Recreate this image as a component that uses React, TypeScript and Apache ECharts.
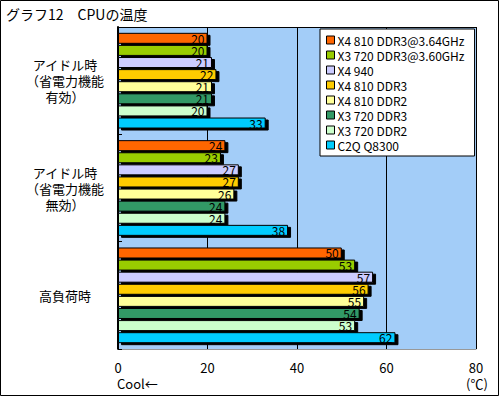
import React, { useEffect, useRef } from "react";
import * as echarts from "echarts";

const categories = ["アイドル時\n（省電力機能\n有効）", "アイドル時\n（省電力機能\n無効）", "高負荷時"];
const seriesNames = [
  "X4 810 DDR3@3.64GHz",
  "X3 720 DDR3@3.60GHz",
  "X4 940",
  "X4 810 DDR3",
  "X4 810 DDR2",
  "X3 720 DDR3",
  "X3 720 DDR2",
  "C2Q Q8300",
];
const seriesColors = ["#FF6600", "#99CC00", "#CCCCFF", "#FFCC00", "#FFFF99", "#339966", "#CCFFCC", "#00CCFF"];
const x4_810_ddr3_364 = [20, 24, 50];
const x3_720_ddr3_360 = [20, 23, 53];
const x4_940 = [21, 27, 57];
const x4_810_ddr3 = [22, 27, 56];
const x4_810_ddr2 = [21, 26, 55];
const x3_720_ddr3 = [21, 24, 54];
const x3_720_ddr2 = [20, 24, 53];
const c2q_q8300 = [33, 38, 62];
const seriesValues = [x4_810_ddr3_364, x3_720_ddr3_360, x4_940, x4_810_ddr3, x4_810_ddr2, x3_720_ddr3, x3_720_ddr2, c2q_q8300];
const xTicks = [0, 20, 40, 60, 80];

const FONT = "'Noto Sans CJK JP', 'Noto Sans', sans-serif";

export default function App() {
  const ref = useRef<HTMLDivElement>(null);
  useEffect(() => {
    if (!ref.current) return;
    const chart = echarts.init(ref.current, null, { renderer: "svg" });
    const series = seriesNames.map((name, i) => ({
      name,
      type: "bar",
      data: seriesValues[i],
      barWidth: 11,
      barGap: "10%",
      barCategoryGap: "9%",
      itemStyle: {
        color: seriesColors[i],
        borderColor: "#000",
        borderWidth: 1,
        shadowColor: "#000",
        shadowBlur: 0,
        shadowOffsetX: 3,
        shadowOffsetY: 2,
      },
      label: {
        show: true,
        position: "insideRight",
        distance: 3,
        color: "#000",
        fontFamily: FONT,
        fontSize: 12,
        lineHeight: 10,
      },
    }));
    chart.setOption({
      animation: false,
      backgroundColor: "#fff",
      textStyle: { fontFamily: FONT },
      grid: { left: 118, right: 24, top: 27, bottom: 48, show: true, backgroundColor: "#A3CDF8", borderWidth: 0 },
      legend: {
        orient: "vertical",
        left: 320,
        top: 29,
        z: 5,
        data: seriesNames,
        icon: "rect",
        itemWidth: 8,
        itemHeight: 8,
        itemGap: 1,
        padding: [4, 10, 4, 6],
        backgroundColor: "#fff",
        borderColor: "#000",
        borderWidth: 1,
        borderRadius: 0,
        itemStyle: { borderColor: "#000", borderWidth: 1, shadowBlur: 0, shadowOffsetX: 0, shadowOffsetY: 0 },
        textStyle: { fontFamily: FONT, fontSize: 12, color: "#000", lineHeight: 14, padding: [0, 0, 0, -2] },
      },
      xAxis: {
        type: "value",
        min: xTicks[0],
        max: xTicks[xTicks.length - 1],
        interval: 20,
        axisLine: { show: true, lineStyle: { color: "#999", width: 1 } },
        axisTick: { show: false },
        splitLine: { show: true, lineStyle: { color: "#000", width: 1 } },
        axisLabel: { color: "#000", fontSize: 13, margin: 12, fontFamily: FONT },
      },
      yAxis: {
        type: "category",
        data: categories,
        inverse: true,
        axisLine: { show: true, lineStyle: { color: "#000", width: 2 } },
        axisTick: { show: true, inside: true, length: 4, lineStyle: { color: "#000" } },
        axisLabel: { color: "#000", fontSize: 13, lineHeight: 16, align: "center", margin: 53, fontFamily: FONT },
      },
      graphic: [
        { type: "rect", shape: { x: 0.5, y: 0.5, width: 498, height: 395 }, style: { fill: "none", stroke: "#000", lineWidth: 1 }, silent: true },
        { type: "line", shape: { x1: 118, y1: 27.5, x2: 476, y2: 27.5 }, style: { stroke: "#000", lineWidth: 1 } },
        { type: "line", shape: { x1: 476.5, y1: 27, x2: 476.5, y2: 349 }, style: { stroke: "#999", lineWidth: 1 } },
        { type: "text", left: 6, top: 7, style: { text: "グラフ12　CPUの温度", font: `14px ${FONT}`, fill: "#000" } },
        { type: "text", left: 117, top: 377, style: { text: "Cool←", font: `13px ${FONT}`, fill: "#000" } },
        { type: "text", left: 466, top: 377, style: { text: "(℃)", font: `13px ${FONT}`, fill: "#000" } },
      ],
      series,
    });
    return () => chart.dispose();
  }, []);
  return <div ref={ref} style={{ position: "absolute", left: 0, top: 0, width: 500, height: 397 }} />;
}
